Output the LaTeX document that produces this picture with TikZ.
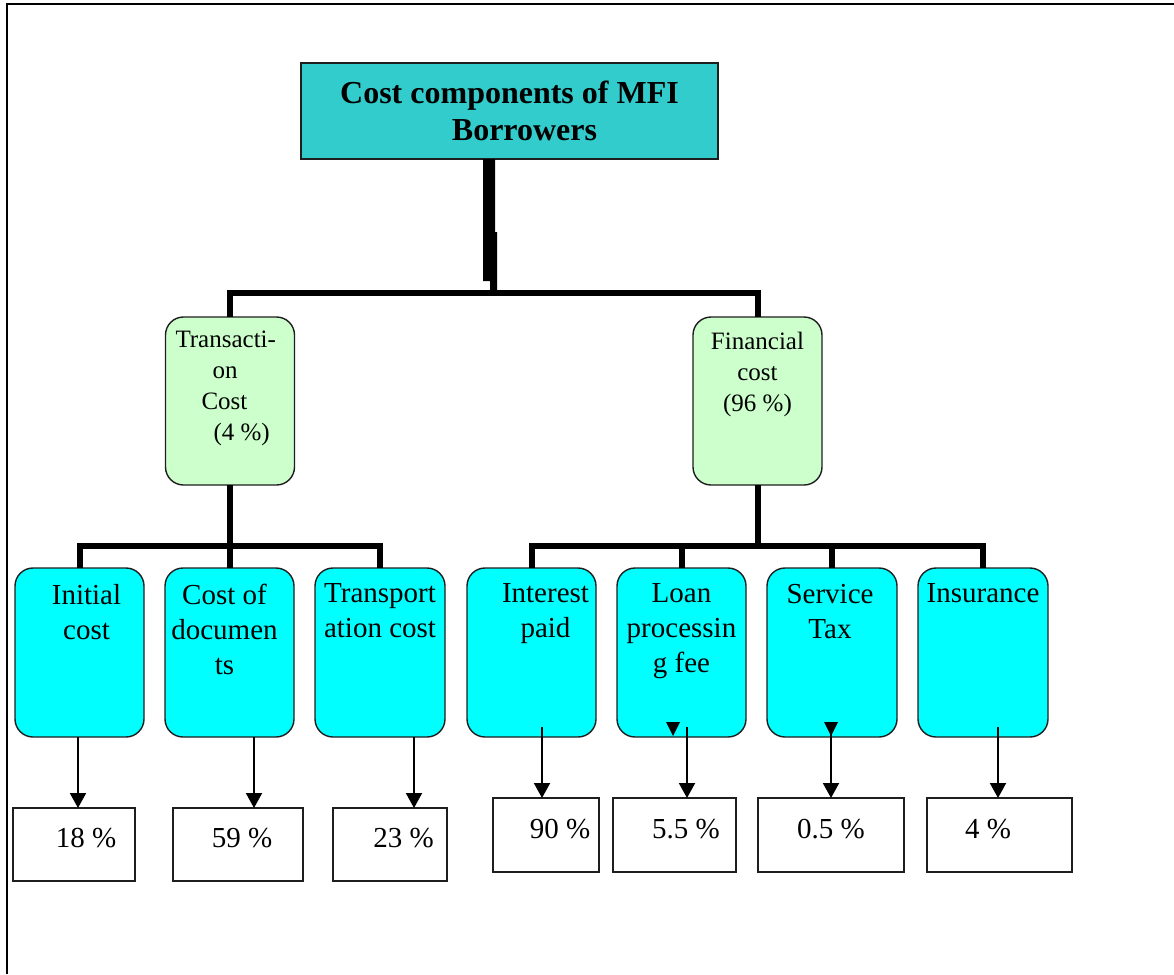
\documentclass[tikz,border=0pt]{standalone}
\usepackage{fontspec}
\setmainfont{Liberation Serif}
\usetikzlibrary{arrows.meta}
\definecolor{titlefill}{RGB}{51,204,204}
\definecolor{midfill}{RGB}{204,255,204}
\definecolor{leaffill}{RGB}{0,255,255}
\definecolor{edge}{RGB}{30,30,30}
\begin{document}
\begin{tikzpicture}[x=1pt,y=-1pt,
  every node/.style={inner sep=0pt,outer sep=0pt},
  titlebox/.style={draw=edge,line width=1.4pt,fill=titlefill,minimum width=417pt,minimum height=96pt,align=center,font=\fontsize{32}{37}\selectfont\bfseries},
  midbox/.style={draw=edge,line width=1.4pt,fill=midfill,rounded corners=18pt,minimum width=129pt,minimum height=168pt},
  leafbox/.style={draw=edge,line width=1.4pt,fill=leaffill,rounded corners=18pt,minimum width=129pt,minimum height=169pt},
  pctbox/.style={draw=edge,line width=1.4pt,minimum height=73pt},
  midtext/.style={font=\fontsize{25}{31}\selectfont},
  leaftext/.style={font=\fontsize{29}{35}\selectfont,align=center,anchor=north,yshift=-16pt},
  pcttext/.style={font=\fontsize{29}{35}\selectfont},
  bar/.style={line width=6pt,line join=miter},
  arr/.style={line width=2pt,-{Triangle[width=16pt,length=15pt]}}
]
\useasboundingbox (0,0) rectangle (1174,974);
% frame
\draw[line width=1.2pt] (7,974) -- (7,4) -- (1174,4);

% title
\node[titlebox] (title) at (509.5,111) {Cost components of MFI\\\hspace*{30pt}Borrowers};

% middle level
\node[midbox,label={[midtext,anchor=north west,align=left,xshift=10pt,yshift=-14pt]north west:Transacti-\\\hspace*{37pt}on\\\hspace*{26pt}Cost\\\hspace*{38pt}(4 \%)}] (trans) at (230,401) {};
\node[midbox,label={[midtext,anchor=north,align=center,yshift=-15pt]north:Financial\\cost\\(96 \%)}] (fin) at (757.5,401) {};

% leaves
\node[leafbox,minimum width=129pt,label={[leaftext,xshift=7pt]north:Initial\\cost}] (l1) at (79.5,652.5) {};
\node[leafbox,minimum width=129pt,label={[leaftext,xshift=-5pt]north:Cost of\\documen\\ts}] (l2) at (229.5,652.5) {};
\node[leafbox,minimum width=130pt,label={[leaftext]north:Transport\\ation cost}] (l3) at (380,652.5) {};
\node[leafbox,minimum width=129pt,label={[leaftext,xshift=14pt]north:Interest\\paid}] (l4) at (531.5,652.5) {};
\node[leafbox,minimum width=129pt,label={[leaftext]north:Loan\\processin\\g fee}] (l5) at (681.5,652.5) {};
\node[leafbox,minimum width=130pt,label={[leaftext,xshift=-2pt]north:Service\\Tax}] (l6) at (832,652.5) {};
\node[leafbox,minimum width=130pt,label={[leaftext]north:Insurance}] (l7) at (983,652.5) {};

% percentage boxes
\node[pctbox,minimum width=122pt,label={[pcttext,xshift=12pt,yshift=6.5pt]center:18 \%}] (p1) at (74,844.5) {};
\node[pctbox,minimum width=130pt,label={[pcttext,xshift=4pt,yshift=6.5pt]center:59 \%}] (p2) at (238,844.5) {};
\node[pctbox,minimum width=114pt,label={[pcttext,xshift=13.5pt,yshift=6.5pt]center:23 \%}] (p3) at (390,844.5) {};
\node[pctbox,minimum width=106pt,minimum height=74pt,label={[pcttext,xshift=14pt,yshift=5.5pt]center:90 \%}] (p4) at (546,835) {};
\node[pctbox,minimum width=123pt,minimum height=74pt,label={[pcttext,xshift=11.5pt,yshift=5.5pt]center:5.5 \%}] (p5) at (674.5,835) {};
\node[pctbox,minimum width=146pt,minimum height=74pt,label={[pcttext,yshift=5.5pt]center:0.5 \%}] (p6) at (831,835) {};
\node[pctbox,minimum width=145pt,minimum height=74pt,label={[pcttext,xshift=-11.5pt,yshift=5.5pt]center:4 \%}] (p7) at (999.5,835) {};

% title connector (thick, with jog)
\coordinate (tb) at (489,293);
\fill ([xshift=-26.5pt]title.south) -- ([xshift=-14.5pt]title.south) -- (495,232) -- (497,232) -- (497,293) -- (490,293) -- (490,281) -- (483,281) -- cycle;
\draw[bar] (trans.north) -- (trans.north |- tb) -- (fin.north |- tb) -- (fin.north);

% transaction branch
\coordinate (tl) at (0,546);
\draw[bar] (trans.south) -- (trans.south |- tl);
\draw[bar] (l1.north) -- (l1.north |- tl) -- (l3.north |- tl) -- (l3.north);
\draw[bar] (l2.north |- tl) -- (l2.north);

% financial branch
\draw[bar] (fin.south) -- (fin.south |- tl);
\draw[bar] (l4.north) -- (l4.north |- tl) -- (l7.north |- tl) -- (l7.north);
\draw[bar] (l5.north |- tl) -- (l5.north);
\draw[bar] (l6.north |- tl) -- (l6.north);

% arrows to percentages
\draw[arr] ([xshift=-1.5pt]l1.south) -- ([xshift=-1.5pt]l1.south |- p1.north);
\draw[arr] ([xshift=24.5pt]l2.south) -- ([xshift=24.5pt]l2.south |- p2.north);
\draw[arr] ([xshift=34pt]l3.south) -- ([xshift=34pt]l3.south |- p3.north);
\draw[arr] ([xshift=10.5pt,yshift=10pt]l4.south) -- ([xshift=10.5pt]l4.south |- p4.north);
\draw[arr] ([xshift=5.5pt,yshift=10pt]l5.south) -- ([xshift=5.5pt]l5.south |- p5.north);
\draw[arr] ([xshift=-1pt,yshift=15pt]l6.south) -- ([xshift=-1pt]l6.south |- p6.north);
\draw[arr] ([xshift=15pt,yshift=10pt]l7.south) -- ([xshift=15pt]l7.south |- p7.north);

% stray arrowheads
\fill (666,722) -- (680,722) -- (673,736) -- cycle;
\fill (824,722) -- (838,722) -- (831,736) -- cycle;
\end{tikzpicture}
\end{document}
